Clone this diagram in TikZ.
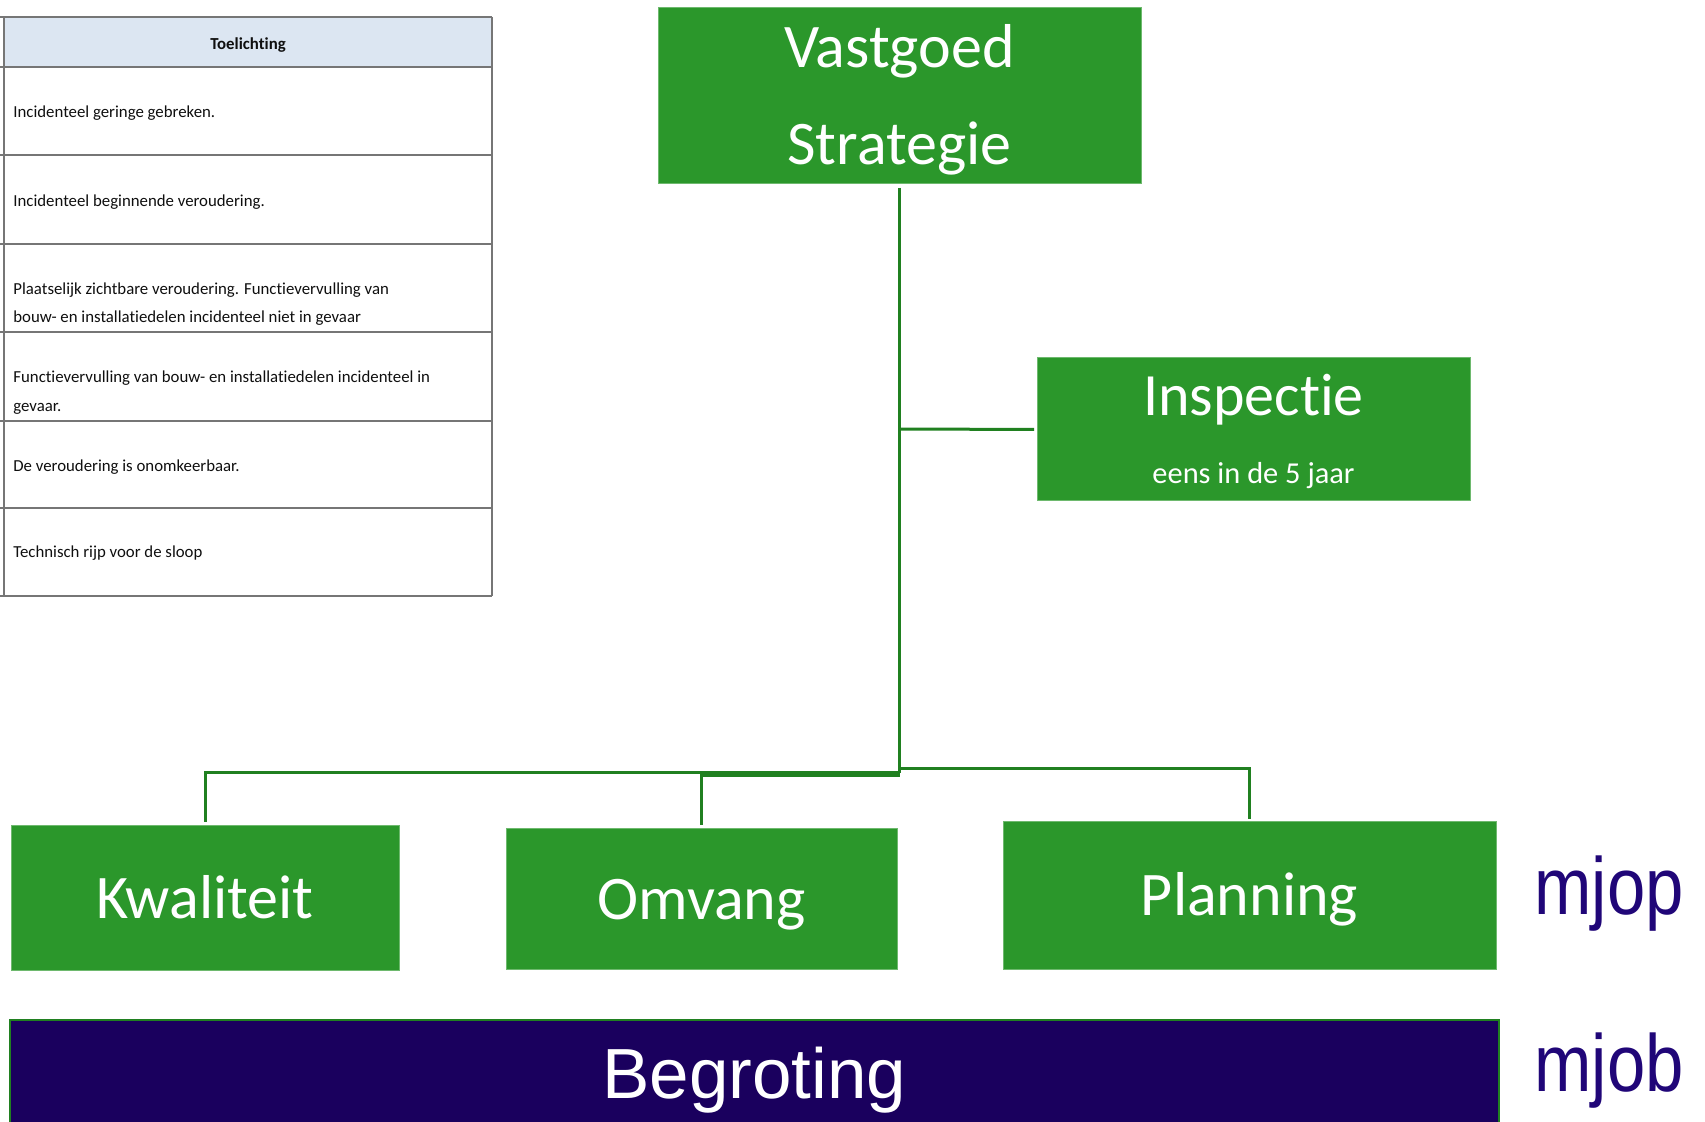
\documentclass[tikz,border=0pt]{standalone}
\usepackage{fontspec}
\setmainfont{Carlito}[Ligatures=NoCommon]
\newfontfamily\arialf{Liberation Sans}
\definecolor{boxgreen}{RGB}{43,151,43}
\definecolor{boxedge}{RGB}{110,185,110}
\definecolor{linegreen}{RGB}{32,128,32}
\definecolor{navyfill}{RGB}{26,0,94}
\definecolor{mjcol}{RGB}{32,6,120}
\definecolor{hdrblue}{RGB}{220,230,242}
\definecolor{tblgray}{RGB}{118,118,118}
\definecolor{tbltext}{RGB}{15,15,15}
\begin{document}
\begin{tikzpicture}[x=0.5pt,y=-0.5pt,
  gbox/.style={fill=boxgreen, draw=boxedge, line width=0.5pt, inner sep=0pt, outer sep=0pt, text=white},
  onebox/.style={gbox, font=\fontsize{31}{37}\selectfont, text height=20pt, text depth=0pt},
  conn/.style={draw=linegreen, line width=1.5pt},
  tline/.style={draw=tblgray, line width=1pt},
  ttext/.style={anchor=base west, inner sep=0pt, text=tbltext, font=\fontsize{8.4}{10}\selectfont},
  mjtext/.style={anchor=base west, inner sep=0pt, text=mjcol, font=\arialf\fontsize{40.5}{48}\selectfont}]
\clip (0,0) rectangle (1705,1122);
\fill[white] (0,0) rectangle (1705,1122);

% table
\fill[hdrblue] (4,17) rectangle (492,67);
\foreach \yy in {17,67,155,244,332,421,508,596} {\draw[tline] (0,\yy) -- (492,\yy);}
\draw[tline] (4,17) -- (4,596);
\draw[tline] (492,17) -- (492,596);
\node[anchor=base, inner sep=0pt, text=tbltext, font=\bfseries\fontsize{8.4}{10}\selectfont] (thead) at (248,50) {Toelichting};
\node[ttext] (t1) at (13,118) {Incidenteel geringe gebreken.};
\node[ttext] (t2) at (13,207) {Incidenteel beginnende veroudering.};
\node[ttext] (t3a) at (13,295) {Plaatselijk zichtbare veroudering. Functievervulling van};
\node[ttext] (t3b) at (13,323) {bouw- en installatiedelen incidenteel niet in gevaar};
\node[ttext] (t4a) at (13,383) {Functievervulling van bouw- en installatiedelen incidenteel in};
\node[ttext] (t4b) at (13,412) {gevaar.};
\node[ttext] (t5) at (13,472) {De veroudering is onomkeerbaar.};
\node[ttext] (t6) at (13,558) {Technisch rijp voor de sloop};

% boxes
\node[gbox, minimum width=241.5pt, minimum height=88pt, align=center, font=\fontsize{31}{48.5}\selectfont] (vg) at (899.5,96) {\rule{0pt}{25pt}Vastgoed\\Strategie};
\node[gbox, minimum width=216.5pt, minimum height=71.5pt] (insp) at (1253.5,429.5) {};
\node[anchor=base, inner sep=0pt, text=white, font=\fontsize{30}{36}\selectfont] (insptitle) at (1253.5,416) {Inspectie};
\node[anchor=base, inner sep=0pt, text=white, font=\fontsize{15.2}{18}\selectfont] (inspsub) at (1253.5,484) {eens in de 5 jaar};
\node[onebox, minimum width=194pt, minimum height=72.5pt] (kw) at (205,898.5) {Kwaliteit};
\node[onebox, minimum width=195.5pt, minimum height=70.5pt] (om) at (701.5,899.5) {Omvang};
\node[onebox, minimum width=246.5pt, minimum height=74pt] (pl) at (1249.5,896) {Planning};
\node[fill=navyfill, draw=linegreen, line width=1pt, inner sep=0pt, outer sep=0pt, minimum width=744.5pt, minimum height=60pt] (beg) at (754.5,1080) {};
\node[anchor=base, inner sep=0pt, text=white, font=\arialf\fontsize{35.5}{42}\selectfont] (begtext) at (754.5,1099) {Begroting};
\node[mjtext] (mjop) at (1534,915) {\scalebox{0.85}[1]{mjop}};
\node[mjtext] (mjob) at (1534,1092) {\scalebox{0.85}[1]{mjob}};

% connectors
\coordinate (jins) at (899.5,429);
\coordinate (jkw) at (899.5,773);
\coordinate (jom) at (899.5,776);
\coordinate (jpl) at (899.5,769);
\draw[conn, shorten <=2pt] (vg.south) -- (jkw);
\draw[conn, shorten >=1.5pt] (jins) -- (insp.west);
\draw[conn, shorten >=2pt] (jkw) -| (kw.north);
\draw[conn, shorten >=2pt] (jom) -| (om.north);
\draw[conn, shorten >=1.5pt] (jpl) -| (pl.north);
\end{tikzpicture}
\end{document}
